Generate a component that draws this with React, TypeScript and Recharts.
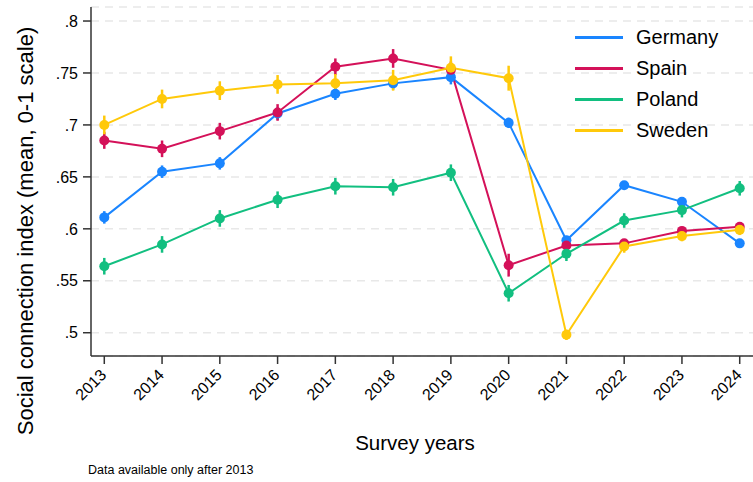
import React from 'react';
import {
    LineChart, Line, XAxis, YAxis, CartesianGrid, ErrorBar
} from 'recharts';

// Survey years and country means with their confidence half-widths
const years = [2013, 2014, 2015, 2016, 2017, 2018, 2019, 2020, 2021, 2022, 2023, 2024];

const germany = [0.611, 0.655, 0.663, 0.711, 0.730, 0.740, 0.746, 0.702, 0.589, 0.642, 0.626, 0.586];
const germanyErr = [0.006, 0.006, 0.006, 0.006, 0.006, 0.006, 0.007, 0.005, 0.003, 0.002, 0.002, 0.002];

const spain = [0.685, 0.677, 0.694, 0.712, 0.756, 0.764, 0.753, 0.565, 0.584, 0.586, 0.598, 0.602];
const spainErr = [0.008, 0.008, 0.008, 0.008, 0.008, 0.009, 0.008, 0.011, 0.003, 0.003, 0.004, 0.004];

const poland = [0.564, 0.585, 0.610, 0.628, 0.641, 0.640, 0.654, 0.538, 0.576, 0.608, 0.618, 0.639];
const polandErr = [0.008, 0.008, 0.008, 0.008, 0.008, 0.008, 0.008, 0.008, 0.007, 0.007, 0.007, 0.007];

const sweden = [0.700, 0.725, 0.733, 0.739, 0.740, 0.743, 0.755, 0.745, 0.498, 0.583, 0.593, 0.599];
const swedenErr = [0.009, 0.009, 0.009, 0.009, 0.009, 0.010, 0.011, 0.012, 0.005, 0.006, 0.005, 0.005];

const yTicks = [0.5, 0.55, 0.6, 0.65, 0.7, 0.75, 0.8];

const series = [
    { key: 'germany', name: 'Germany', color: '#1A85FF' },
    { key: 'spain', name: 'Spain', color: '#D41159' },
    { key: 'poland', name: 'Poland', color: '#12BF80' },
    { key: 'sweden', name: 'Sweden', color: '#FFC90A' },
];

const data = years.map((year, i) => ({
    year,
    germany: germany[i], germanyErr: germanyErr[i],
    spain: spain[i], spainErr: spainErr[i],
    poland: poland[i], polandErr: polandErr[i],
    sweden: sweden[i], swedenErr: swedenErr[i],
}));

const FONT = '"Liberation Sans", Arial, sans-serif';

// drop the leading zero, Stata style (.75)
const fmtY = (v: number) => String(v).replace(/^0\./, '.');

// year labels at 45 degrees, ending just below the tick mark
const YearTick = ({ x, y, payload }: any) => (
    <g transform={`translate(${x + 3},${y + 10})`}>
        <text x={0} y={0} textAnchor="end" transform="rotate(-45)" fontSize={16} fill="#000" fontFamily={FONT}>
            {payload.value}
        </text>
    </g>
);

export default function App() {
    return (
        <div style={{ position: 'relative', width: 753, height: 482, background: '#fff', fontFamily: FONT }}>
            <style>{'body{margin:0}'}</style>
            <LineChart width={753} height={482} data={data} margin={{ top: 7, right: 0, left: 0, bottom: 0 }}>
                <CartesianGrid vertical={false} stroke="#e8e8e8" strokeWidth={1.5} strokeDasharray="8 6" />
                <XAxis
                    dataKey="year"
                    type="number"
                    domain={[2012.77, 2024.23]}
                    ticks={years}
                    interval={0}
                    tick={<YearTick />}
                    tickSize={8}
                    tickMargin={2}
                    stroke="#333"
                    strokeWidth={1.5}
                    height={126}
                />
                <YAxis
                    type="number"
                    domain={[0.4776, 0.8135]}
                    ticks={yTicks}
                    tickFormatter={fmtY}
                    width={91}
                    tickSize={8}
                    tickMargin={5}
                    stroke="#333"
                    strokeWidth={1.5}
                    tick={{ fontSize: 16, fill: '#000', fontFamily: FONT }}
                    allowDataOverflow
                />
                {series.map(s => (
                    <Line
                        key={s.key}
                        dataKey={s.key}
                        name={s.name}
                        stroke={s.color}
                        strokeWidth={2}
                        dot={{ r: 5, fill: s.color, stroke: s.color, strokeWidth: 0 }}
                        activeDot={false}
                        isAnimationActive={false}
                    >
                        <ErrorBar dataKey={`${s.key}Err`} direction="y" width={0} stroke={s.color} strokeWidth={2.5} />
                    </Line>
                ))}
            </LineChart>

            {/* legend, top right inside the plot */}
            <div style={{ position: 'absolute', left: 575, top: 22 }}>
                {series.map(s => (
                    <div key={s.key} style={{ display: 'flex', alignItems: 'center', height: 31 }}>
                        <div style={{ width: 48, height: 2.5, background: s.color, marginRight: 13 }} />
                        <span style={{ fontSize: 20, color: '#000' }}>{s.name}</span>
                    </div>
                ))}
            </div>

            <svg width={753} height={482} style={{ position: 'absolute', left: 0, top: 0, pointerEvents: 'none' }}>
                <text
                    transform="translate(33,231) rotate(-90)"
                    textAnchor="middle"
                    fontSize={22}
                    fontFamily={FONT}
                    fill="#000"
                >
                    Social connection index (mean, 0-1 scale)
                </text>
                <text x={415} y={450} textAnchor="middle" fontSize={20.5} fontFamily={FONT} fill="#000">
                    Survey years
                </text>
                <text x={88} y={474} fontSize={12.5} fontFamily={FONT} fill="#000">
                    Data available only after 2013
                </text>
            </svg>
        </div>
    );
}
